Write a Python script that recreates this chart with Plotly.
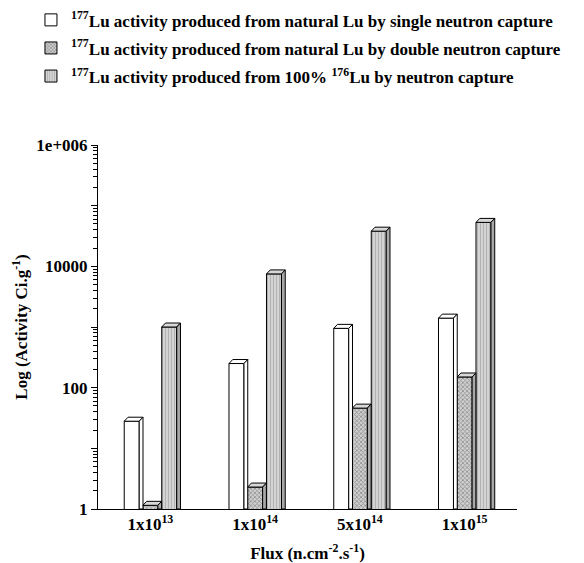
import plotly.graph_objects as go

categories = ["1x10<sup>13</sup>", "1x10<sup>14</sup>", "5x10<sup>14</sup>", "1x10<sup>15</sup>"]
single_capture = [28, 250, 950, 1400]
double_capture = [1.15, 2.3, 46, 150]
enriched_capture = [1000, 7500, 38000, 53000]
series_names = [
    "<sup>177</sup>Lu activity produced from natural Lu by single neutron capture",
    "<sup>177</sup>Lu activity produced from natural Lu by double neutron capture",
    "<sup>177</sup>Lu activity produced from 100% <sup>176</sup>Lu by neutron capture",
]
y_tick_vals = [1, 10, 100, 1000, 10000, 100000, 1000000]
y_tick_text = ["1", "", "100", "", "10000", "", "1e+006"]

FONT = "Liberation Serif"
series = [single_capture, double_capture, enriched_capture]
offsets = [-0.178, 0.0, 0.18]
width = 0.143
depth = 0.036
lift = 10 ** (4 / 60.8)

fills = [
    dict(color="white", pattern=dict(shape="")),
    dict(color="#c8c8c8", pattern=dict(shape="x", fgcolor="#4a4a4a", bgcolor="#d0d0d0", size=3, solidity=0.45)),
    dict(color="#c8c8c8", pattern=dict(shape="|", fgcolor="#8a8a8a", bgcolor="#d4d4d4", size=3, solidity=0.3)),
]
cap_colors = ["white", "#d8d8d8", "#d8d8d8"]
side_colors = ["white", "#a8a8a8", "#a8a8a8"]

xs = list(range(len(categories)))
fig = go.Figure()

for i, (vals, name) in enumerate(zip(series, series_names)):
    fig.add_trace(go.Bar(
        x=[x + offsets[i] for x in xs], y=vals, width=width, name=f"<b>{name}</b>",
        marker=dict(color=fills[i]["color"], pattern=fills[i]["pattern"],
                    line=dict(color="black", width=1)),
        legendgroup=str(i), hoverinfo="skip",
    ))

# 3D caps and side faces derived from the data values
for i, vals in enumerate(series):
    for x, v in zip(xs, vals):
        xl = x + offsets[i] - width / 2
        xr = x + offsets[i] + width / 2
        fig.add_trace(go.Scatter(
            x=[xl, xr, xr + depth, xl + depth, xl],
            y=[v, v, v * lift, v * lift, v],
            fill="toself", fillcolor=cap_colors[i], mode="lines",
            line=dict(color="black", width=1), showlegend=False, hoverinfo="skip"))
        fig.add_trace(go.Scatter(
            x=[xr, xr, xr + depth, xr + depth, xr],
            y=[1, v, v * lift, 1.0, 1],
            fill="toself", fillcolor=side_colors[i], mode="lines",
            line=dict(color="black", width=1), showlegend=False, hoverinfo="skip"))

minor_vals = [m * 10 ** k for k in range(6) for m in range(2, 10)]

fig.update_layout(
    width=584, height=563,
    margin=dict(l=98, r=67, t=145, b=54, autoexpand=False),
    paper_bgcolor="white", plot_bgcolor="white",
    font=dict(family=FONT, color="black", size=17),
    barmode="overlay",
    showlegend=True,
    legend=dict(x=-0.16, y=1.392, xanchor="left", yanchor="top",
                font=dict(family=FONT, size=17, color="black"),
                traceorder="grouped", tracegroupgap=3, bgcolor="rgba(0,0,0,0)"),
    xaxis=dict(
        range=[-0.5, 3.5], tickvals=xs, ticktext=[f"<b>{c}</b>" for c in categories],
        showline=True, linecolor="black", linewidth=1, ticks="", showgrid=False,
        zeroline=False, tickfont=dict(family=FONT, size=17), automargin=False,
        title=dict(text="<b>Flux (n.cm<sup>-2</sup>.s<sup>-1</sup>)</b>",
                   font=dict(family=FONT, size=17), standoff=13),
    ),
    yaxis=dict(
        type="log", range=[0, 6], tickvals=y_tick_vals,
        ticktext=[f"<b>{t}</b>" if t else "" for t in y_tick_text],
        showline=True, linecolor="black", linewidth=1, ticks="outside", ticklen=6,
        tickcolor="black", showgrid=False, zeroline=False, automargin=False,
        tickfont=dict(family=FONT, size=17),
        minor=dict(tickvals=minor_vals, ticks="outside", ticklen=4, tickcolor="black", showgrid=False),
        title=dict(text="<b>Log (Activity Ci.g<sup>-1</sup>)</b>",
                   font=dict(family=FONT, size=17), standoff=4),
    ),
)

fig.write_html("out.html")
